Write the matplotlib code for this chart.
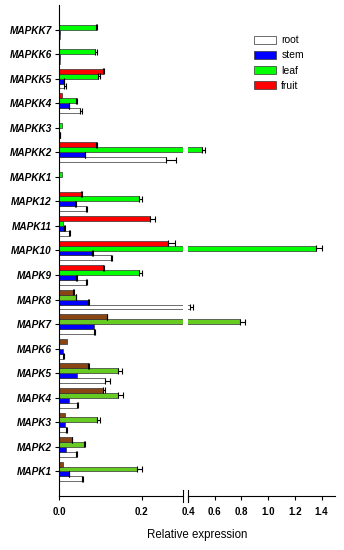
import matplotlib
matplotlib.use('Agg')
import matplotlib.pyplot as plt
import numpy as np
from matplotlib.patches import Patch

genes = ['MAPK1', 'MAPK2', 'MAPK3', 'MAPK4', 'MAPK5', 'MAPK6', 'MAPK7', 'MAPK8',
         'MAPK9', 'MAPK10', 'MAPK11', 'MAPK12', 'MAPKK1', 'MAPKK2', 'MAPKK3',
         'MAPKK4', 'MAPKK5', 'MAPKK6', 'MAPKK7']

root = [0.055, 0.041, 0.018, 0.043, 0.111, 0.010, 0.085, 0.415, 0.065, 0.126,
        0.023, 0.065, 0.0, 0.258, 0.002, 0.052, 0.013, 0.002, 0.002]
root_err = [0.003, 0.003, 0.002, 0.002, 0.012, 0.001, 0.002, 0.02, 0.003, 0.003,
            0.003, 0.002, 0.0, 0.025, 0.001, 0.003, 0.004, 0.0, 0.0]

stem = [0.023, 0.018, 0.015, 0.025, 0.044, 0.009, 0.085, 0.071, 0.041, 0.081,
        0.013, 0.039, 0.0, 0.062, 0.001, 0.023, 0.011, 0.003, 0.003]
stem_err = [0.001, 0.0, 0.0, 0.0, 0.0, 0.0, 0.0, 0.002, 0.002, 0.002,
            0.002, 0.001, 0.0, 0.002, 0.0, 0.001, 0.002, 0.0, 0.0]

leaf = [0.188, 0.061, 0.091, 0.143, 0.143, 0.001, 0.79, 0.041, 0.194, 1.355,
        0.0105, 0.194, 0.0065, 0.504, 0.007, 0.041, 0.095, 0.086, 0.0895]
leaf_err = [0.012, 0.003, 0.008, 0.011, 0.010, 0.0, 0.04, 0.001, 0.008, 0.045,
            0.0, 0.006, 0.0, 0.022, 0.0, 0.002, 0.003, 0.005, 0.003]

fruit = [0.009, 0.031, 0.0145, 0.107, 0.070, 0.0185, 0.115, 0.035, 0.107, 0.264,
         0.22, 0.053, 0.0, 0.089, 0.0, 0.007, 0.107, 0.0, 0.0]
fruit_err = [0.0, 0.001, 0.0, 0.004, 0.002, 0.0, 0.002, 0.002, 0.003, 0.016,
             0.012, 0.002, 0.0, 0.002, 0.0, 0.0, 0.002, 0.0, 0.0]

series_names = ['root', 'stem', 'leaf', 'fruit']
series_colors = ['white', '#0000ff', '#00ff00', '#ff0000']

y = np.arange(len(genes))
h = 0.2
offsets = [-0.3, -0.1, 0.1, 0.3]

# the lower MAPK rows look tinted in the source picture
fruit_cols = ['#8a4515' if i < 8 else '#ff0000' for i in range(len(genes))]
leaf_cols = ['#66cc22' if i < 8 else '#00ff00' for i in range(len(genes))]

fig = plt.figure(figsize=(3.44, 5.5), dpi=100)
ax1 = fig.add_axes([59 / 344, 54 / 550, 124 / 344, 491 / 550])
ax2 = fig.add_axes([188 / 344, 54 / 550, 147 / 344, 491 / 550], sharey=ax1)

data = [(root, root_err), (stem, stem_err), (leaf, leaf_err), (fruit, fruit_err)]
for ax in (ax1, ax2):
    for k, (vals, errs) in enumerate(data):
        if k == 2:
            cols = leaf_cols
        elif k == 3:
            cols = fruit_cols
        else:
            cols = series_colors[k]
        ax.barh(y + offsets[k], vals, height=h, color=cols,
                edgecolor='#333333', linewidth=0.5)
        vals = np.array(vals)
        errs = np.array(errs)
        m = errs > 0
        ax.errorbar(vals[m], (y + offsets[k])[m],
                    xerr=[np.zeros(m.sum()), errs[m]],
                    fmt='none', ecolor='black', elinewidth=0.8,
                    capsize=2, capthick=0.8)

ax1.set_xlim(0, 0.3)
ax2.set_xlim(0.4, 1.5)
ax1.set_ylim(-1, 19)

for s in ['top', 'right']:
    ax1.spines[s].set_visible(False)
for s in ['top', 'right', 'left']:
    ax2.spines[s].set_visible(False)
for ax in (ax1, ax2):
    ax.spines['bottom'].set_linewidth(0.8)
ax1.spines['left'].set_linewidth(0.8)

ax1.set_xticks([0.0, 0.2])
ax1.set_xticklabels(['0.0', '0.2'])
ax2.set_xticks([0.4, 0.6, 0.8, 1.0, 1.2, 1.4])
ax2.set_xticklabels(['0.4', '0.6', '0.8', '1.0', '1.2', '1.4'])
for ax in (ax1, ax2):
    ax.tick_params(axis='x', length=3, width=0.8, pad=5, labelsize=7)
    for lbl in ax.get_xticklabels():
        lbl.set_fontweight('bold')
        lbl.set_family('Liberation Sans')

ax1.set_yticks(y)
ax1.set_yticklabels(genes, fontstyle='italic', fontweight='bold',
                    family='Liberation Sans', fontsize=7.2)
ax1.tick_params(axis='y', length=3, width=0.8, pad=2)
ax2.tick_params(axis='y', left=False, labelleft=False)

# break marks
d = 0.012
ax1.plot([1, 1], [-d, d], transform=ax1.transAxes, color='black', lw=0.8, clip_on=False)
ax2.plot([0, 0], [-d, d], transform=ax2.transAxes, color='black', lw=0.8, clip_on=False)

fig.text(197 / 344, 1 - 535 / 550, 'Relative expression', ha='center', va='center',
         fontsize=8.3, family='Liberation Sans')

handles = [Patch(facecolor=c, edgecolor='#333333', linewidth=0.5) for c in series_colors]
fig.legend(handles, series_names, loc='upper left',
           bbox_to_anchor=(250 / 344, 1 - 31 / 550), frameon=False,
           prop={'family': 'Liberation Sans', 'size': 7.5},
           handlelength=2.1, handleheight=0.8, labelspacing=0.5,
           handletextpad=0.5, borderaxespad=0)

fig.savefig('out.png', dpi=100)
